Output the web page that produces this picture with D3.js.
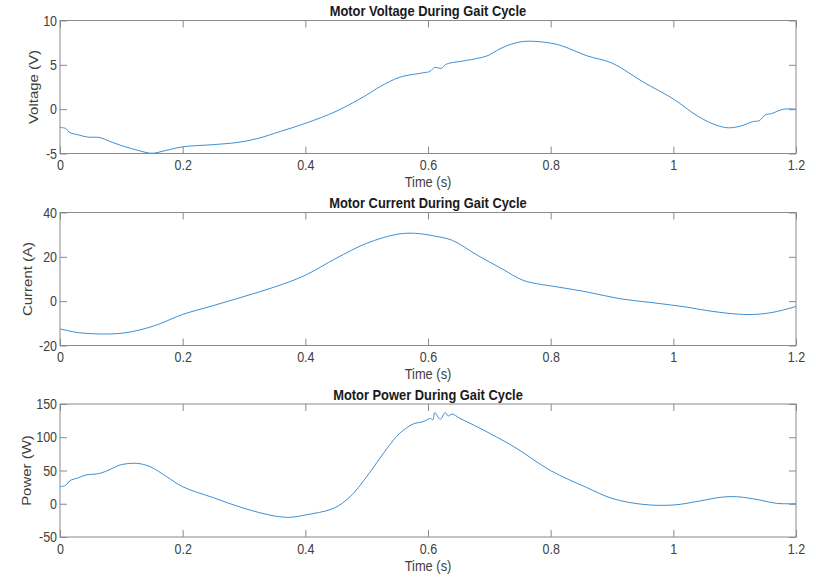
<!DOCTYPE html>
<html>
<head>
<meta charset="utf-8">
<script src="https://cdn.jsdelivr.net/npm/d3@7"></script>
<style>
  body { margin: 0; background: #fff; }
  svg { display: block; font-family: "Liberation Sans", Arial, sans-serif; }
</style>
</head>
<body>
<svg id="chart" width="816" height="577"></svg>
<script>
// time samples (s) and values
let voltTime = [0, 0.01, 0.015, 0.03, 0.045, 0.065, 0.08, 0.1, 0.13, 0.15, 0.17, 0.2, 0.25, 0.29, 0.32, 0.36, 0.4, 0.45, 0.5, 0.522, 0.554, 0.592, 0.603, 0.611, 0.622, 0.628, 0.636, 0.663, 0.696, 0.712, 0.73, 0.758, 0.8, 0.82, 0.86, 0.9, 0.95, 1.0, 1.04, 1.07, 1.09, 1.11, 1.13, 1.14, 1.15, 1.16, 1.18, 1.2];
let voltage = [-2.05, -2.2, -2.6, -2.9, -3.15, -3.2, -3.6, -4.1, -4.7, -4.98, -4.7, -4.25, -4.0, -3.75, -3.35, -2.5, -1.6, -0.25, 1.6, 2.55, 3.6, 4.1, 4.25, 4.7, 4.6, 5.0, 5.2, 5.5, 6.0, 6.6, 7.2, 7.65, 7.45, 7.1, 6.0, 5.2, 3.1, 1.15, -0.8, -1.8, -2.1, -1.9, -1.4, -1.3, -0.65, -0.5, 0, 0];

let currTime = [0, 0.03, 0.065, 0.1, 0.13, 0.16, 0.2, 0.25, 0.3, 0.35, 0.4, 0.45, 0.5, 0.55, 0.58, 0.61, 0.64, 0.68, 0.72, 0.755, 0.783, 0.8, 0.86, 0.913, 0.967, 1.022, 1.054, 1.098, 1.13, 1.163, 1.2];
let current = [-12.5, -14.2, -14.8, -14.5, -13, -10.5, -6, -2, 2.1, 6.4, 11.7, 19.3, 26.1, 30.2, 30.6, 29.4, 27.4, 20.8, 14.7, 9.4, 7.6, 6.9, 4.1, 1.1, -0.7, -2.7, -4.2, -5.7, -6.0, -5.0, -2.4];

let powTime = [0, 0.01, 0.016, 0.03, 0.041, 0.065, 0.082, 0.098, 0.125, 0.147, 0.174, 0.2, 0.25, 0.3, 0.35, 0.375, 0.4, 0.446, 0.473, 0.5, 0.533, 0.554, 0.576, 0.592, 0.6, 0.604, 0.608, 0.611, 0.62, 0.628, 0.633, 0.639, 0.652, 0.685, 0.74, 0.8, 0.858, 0.9, 0.95, 1.0, 1.043, 1.076, 1.103, 1.141, 1.168, 1.2];
let power = [25.7, 28, 34.7, 39, 43, 45.7, 51.7, 58.3, 60.8, 55.7, 40.7, 25.6, 9.1, -6.9, -18.4, -20.4, -16.9, -6.9, 10.6, 40.7, 83, 106, 120, 123.4, 127, 128.5, 126, 137, 127, 137, 132, 135, 128.5, 113.4, 85.8, 49.8, 24.7, 8.1, -0.9, -1.9, 4.1, 9.6, 10.6, 5.6, 0.6, 0];

let timeTicks = [0, 0.2, 0.4, 0.6, 0.8, 1, 1.2];
let titles = ['Motor Voltage During Gait Cycle', 'Motor Current During Gait Cycle', 'Motor Power During Gait Cycle'];
let yLabels = ['Voltage (V)', 'Current (A)', 'Power (W)'];
let yDomains = [[-5, 10], [-20, 40], [-50, 150]];
let yTicks = [[-5, 0, 5, 10], [-20, 0, 20, 40], [-50, 0, 50, 100, 150]];

let left = 60,
    right = 796,
    panelTops = [20.5, 212.5, 404],
    panelHeight = 133,
    yLabelX = [37.5, 32, 31],
    tickLen = 7,
    squeeze = 0.86,          // the picture's text is narrower than it is tall
    axisColor = '#8a8a8a',
    textColor = '#404040',
    lineColor = '#3d8fd4';

let svg = d3.select('#chart');

let series = [
  voltTime.map((t, i) => [t, voltage[i]]),
  currTime.map((t, i) => [t, current[i]]),
  powTime.map((t, i) => [t, power[i]])
];

let xScale = d3.scaleLinear()
    .domain([0, 1.2])
    .range([left, right]);

let label = (g, str, x, y, size, extra) => g.append('text')
    .text(str)
    .attr('transform', `translate(${x},${y}) scale(${squeeze},1)` + (extra || ''))
    .attr('text-anchor', 'middle')
    .attr('font-size', size)
    .attr('fill', textColor);

series.forEach((data, k) => {
  let top = panelTops[k],
      bottom = top + panelHeight;

  let yScale = d3.scaleLinear()
      .domain(yDomains[k])
      .range([bottom, top]);

  let g = svg.append('g');

  // inward ticks on all four sides, like a boxed matlab axes
  let fmt = d => String(d);
  let styleAxis = sel => {
    sel.select('.domain').remove();
    sel.selectAll('line').attr('stroke', axisColor);
    sel.selectAll('text')
        .attr('fill', textColor)
        .attr('font-size', 14.5)
        .attr('font-family', null)
        .attr('transform', `scale(${squeeze},1)`);
  };

  g.append('g')
      .attr('transform', `translate(0,${bottom})`)
      .call(d3.axisBottom(xScale).tickValues(timeTicks).tickFormat(fmt).tickSizeInner(-tickLen).tickSizeOuter(0).tickPadding(6.7))
      .call(styleAxis);

  g.append('g')
      .attr('transform', `translate(0,${top})`)
      .call(d3.axisTop(xScale).tickValues(timeTicks).tickFormat('').tickSizeInner(-tickLen).tickSizeOuter(0))
      .call(styleAxis);

  g.append('g')
      .attr('transform', `translate(${left},0)`)
      .call(d3.axisLeft(yScale).tickValues(yTicks[k]).tickFormat(fmt).tickSizeInner(-tickLen).tickSizeOuter(0).tickPadding(3.5))
      .call(styleAxis);

  g.append('g')
      .attr('transform', `translate(${right},0)`)
      .call(d3.axisRight(yScale).tickValues(yTicks[k]).tickFormat('').tickSizeInner(-tickLen).tickSizeOuter(0))
      .call(styleAxis);

  g.append('rect')
      .attr('x', left)
      .attr('y', top)
      .attr('width', right - left)
      .attr('height', panelHeight)
      .attr('fill', 'none')
      .attr('stroke', axisColor)
      .attr('stroke-width', 1);

  let line = d3.line()
      .x(d => xScale(d[0]))
      .y(d => yScale(d[1]))
      .curve(d3.curveCatmullRom.alpha(0.5));

  g.append('path')
      .datum(data)
      .attr('d', line)
      .attr('fill', 'none')
      .attr('stroke', lineColor)
      .attr('stroke-width', 1);

  label(g, titles[k], (left + right) / 2, top - 4.3, 15)
      .attr('font-weight', 'bold')
      .attr('fill', '#1a1a1a');

  label(g, 'Time (s)', (left + right) / 2, bottom + 33.5, 15);

  label(g, yLabels[k], yLabelX[k], (top + bottom) / 2, 15, ' rotate(-90)');
});
</script>
</body>
</html>
